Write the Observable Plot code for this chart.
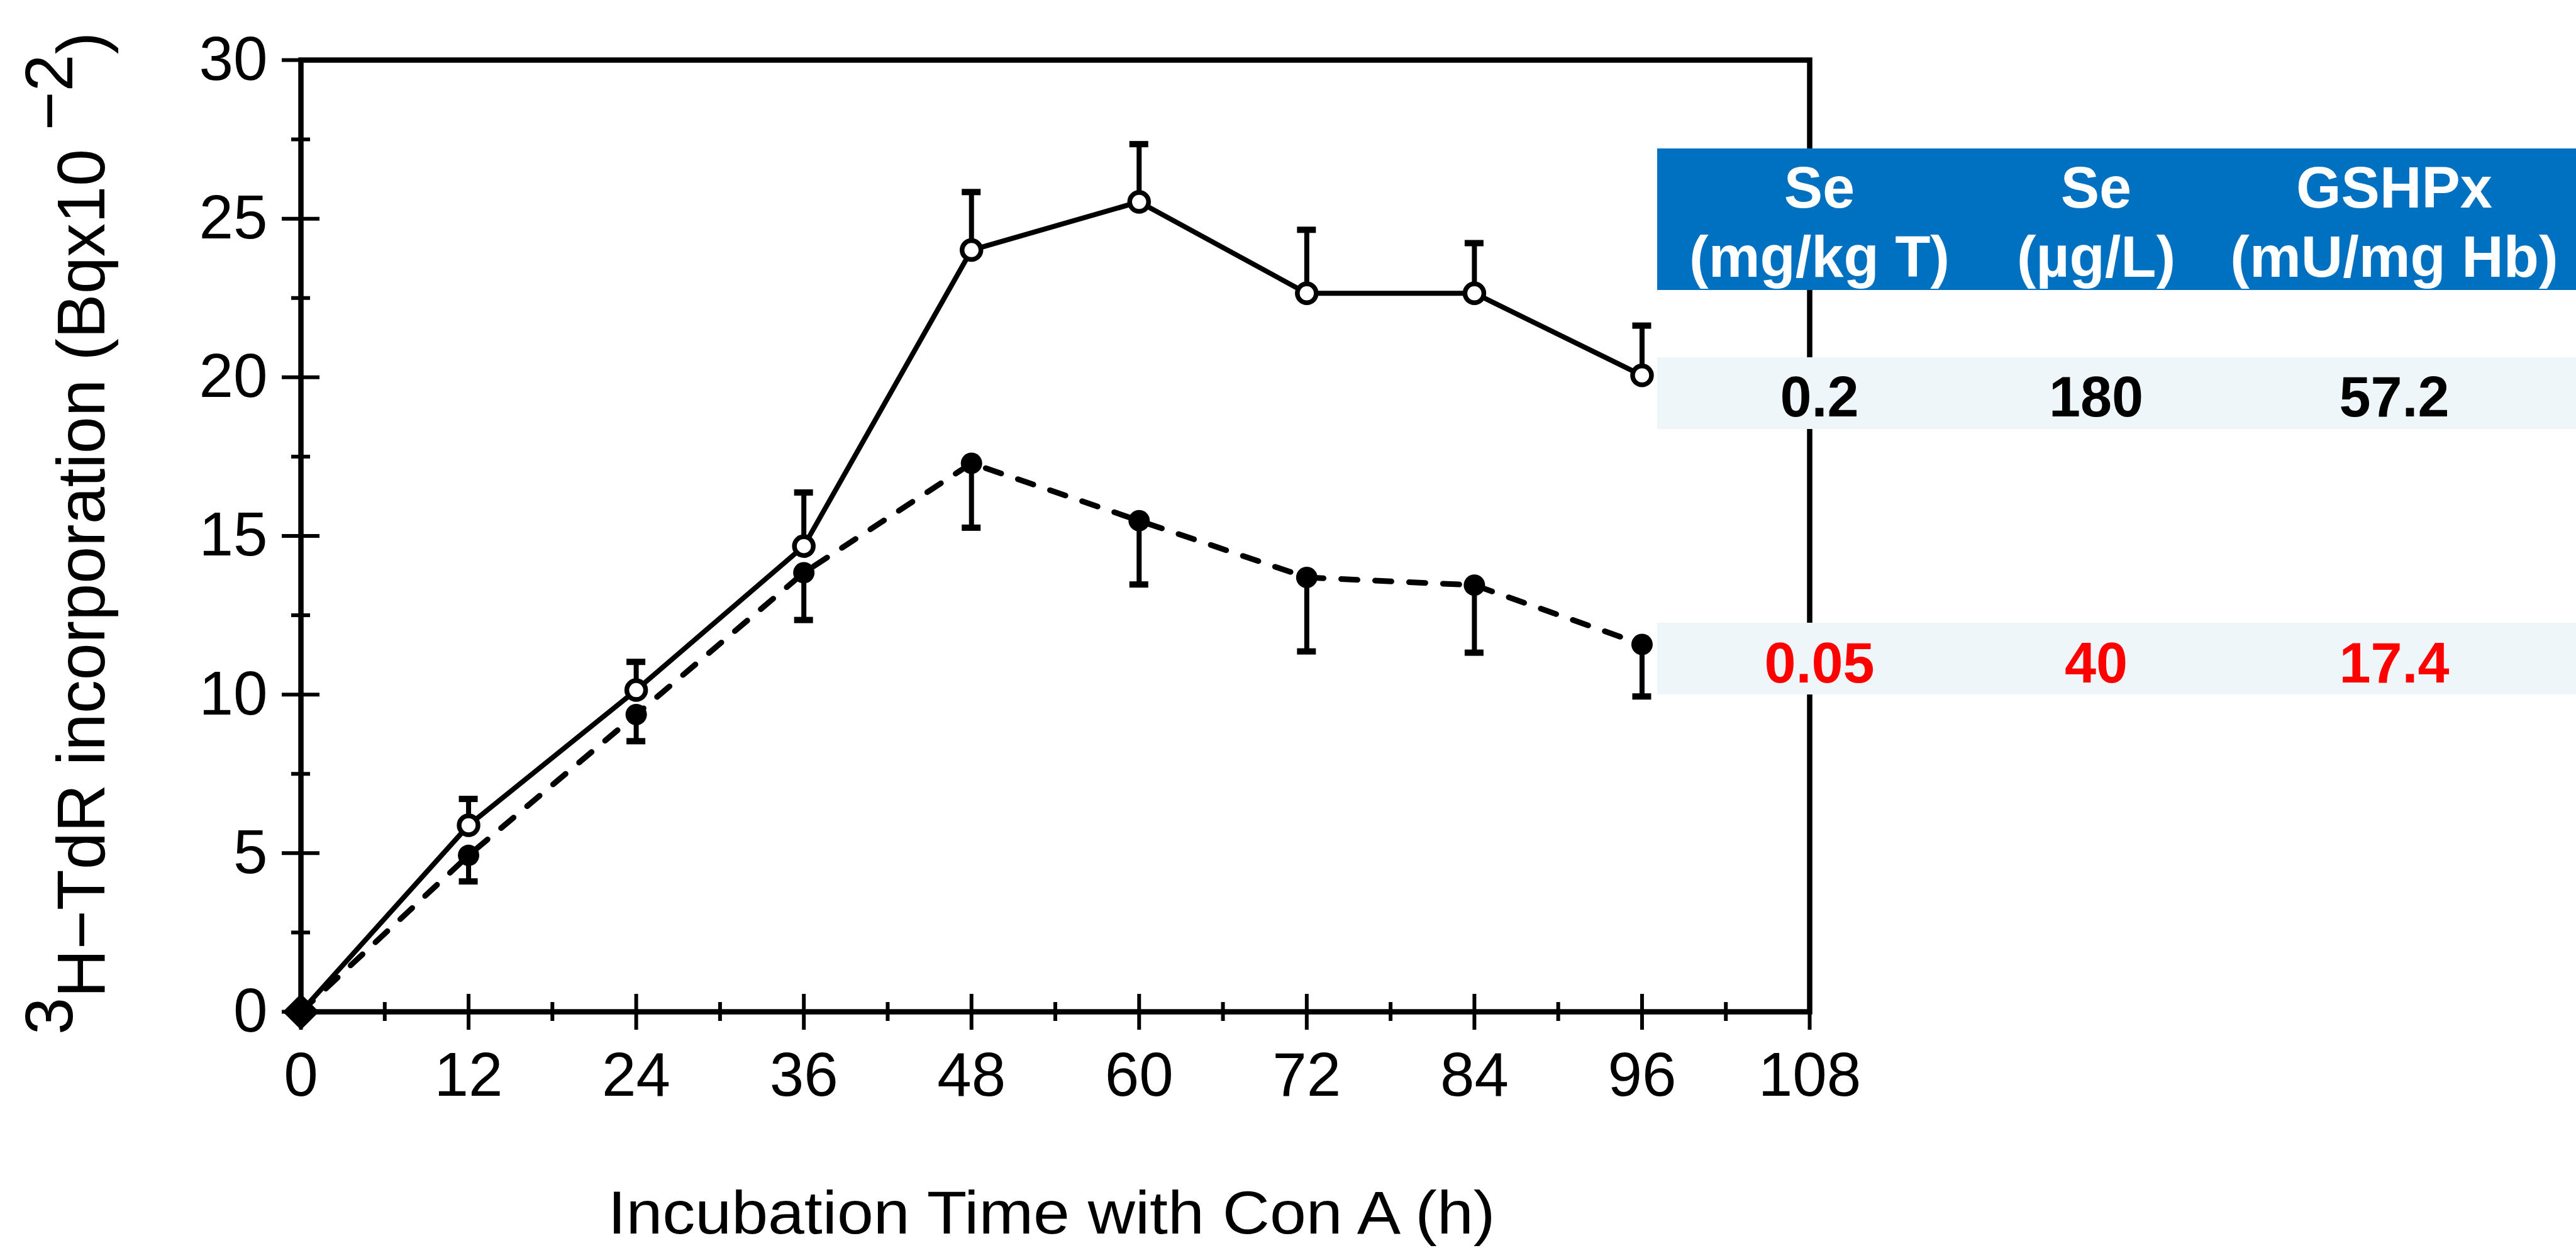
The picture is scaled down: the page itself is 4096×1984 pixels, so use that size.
<!DOCTYPE html>
<html><head><meta charset="utf-8">
<script src="https://cdn.jsdelivr.net/npm/d3@7"></script>
<script src="https://cdn.jsdelivr.net/npm/@observablehq/plot@0.6"></script>
<style>html,body{margin:0;padding:0;background:#fff;} #chart{position:relative;width:4096px;height:1984px;overflow:hidden}</style>
</head><body><div id="chart"></div>
<script>
// ---- data ----
const hours = [0, 12, 24, 36, 48, 60, 72, 84, 96];
const highSe = [0, 5.88, 10.14, 14.68, 24.01, 25.53, 22.65, 22.65, 20.06];     // open circles, solid line
const highSeErr = [0, 0.83, 0.89, 1.69, 1.83, 1.82, 2.00, 1.58, 1.57];        // drawn upward
const lowSe = [0, 4.93, 9.37, 13.84, 17.29, 15.48, 13.69, 13.45, 11.58];      // filled circles, dashed line
const lowSeErr = [0, 0.82, 0.84, 1.49, 2.03, 2.01, 2.33, 2.13, 1.64];         // drawn downward

const xMajor = [0, 12, 24, 36, 48, 60, 72, 84, 96, 108];
const xMinor = [6, 18, 30, 42, 54, 66, 78, 90, 102];
const yMajor = [0, 5, 10, 15, 20, 25, 30];
const yMinor = [2.5, 7.5, 12.5, 17.5, 22.5, 27.5];

const xTitle = "Incubation Time with Con A (h)";
const yTitleParts = ["3", "H\u2212TdR incorporation (Bqx10 ", "\u22122", ")"];

const tableHeaders = [["Se", "(mg/kg T)"], ["Se", "(\u00b5g/L)"], ["GSHPx", "(mU/mg Hb)"]];
const tableRows = [["0.2", "180", "57.2"], ["0.05", "40", "17.4"]];
const rowColors = ["#000000", "#FF0000"];

// ---- build ----
const rows = hours.map((h, i) => ({
  h, hi: highSe[i], hiTop: highSe[i] + highSeErr[i],
  lo: lowSe[i], loBot: lowSe[i] - lowSeErr[i]
}));
const pts = rows.filter(d => d.h > 0);
const FONT = "'Liberation Sans', Arial, Helvetica, sans-serif";

const plot = Plot.plot({
  width: 4096, height: 1984,
  marginLeft: 478, marginRight: 1219, marginTop: 95, marginBottom: 376,
  x: {domain: [0, 108], axis: null},
  y: {domain: [0, 30], axis: null},
  style: {fontFamily: FONT, background: "white", color: "black"},
  marks: [
    Plot.frame({stroke: "black", strokeWidth: 8.5}),
    // crossing ticks
    Plot.ruleX(xMajor, {x: d => d, y1: 0, y2: 0, insetTop: -28, insetBottom: -29, strokeWidth: 6}),
    Plot.ruleX(xMinor, {x: d => d, y1: 0, y2: 0, insetTop: -15, insetBottom: -15, strokeWidth: 6}),
    Plot.ruleY(yMajor, {y: d => d, x1: 0, x2: 0, insetLeft: -30, insetRight: -30, strokeWidth: 6}),
    Plot.ruleY(yMinor, {y: d => d, x1: 0, x2: 0, insetLeft: -15, insetRight: -15, strokeWidth: 6}),
    // tick labels
    Plot.text(xMajor, {x: d => d, y: 0, text: d => String(d), lineAnchor: "top", dy: 64, fontSize: 98}),
    Plot.text(yMajor, {x: 0, y: d => d, text: d => String(d), textAnchor: "end", dx: -53, fontSize: 98}),
    // lines
    Plot.line(rows, {x: "h", y: "lo", stroke: "black", strokeWidth: 9, strokeDasharray: "26,28"}),
    Plot.line(rows, {x: "h", y: "hi", stroke: "black", strokeWidth: 8}),
    // error bars
    Plot.ruleX(pts, {x: "h", y1: "lo", y2: "loBot", strokeWidth: 8}),
    Plot.ruleY(pts, {y: "loBot", x1: "h", x2: "h", insetLeft: -15, insetRight: -15, strokeWidth: 10}),
    Plot.ruleX(pts, {x: "h", y1: "hi", y2: "hiTop", strokeWidth: 8}),
    Plot.ruleY(pts, {y: "hiTop", x1: "h", x2: "h", insetLeft: -15, insetRight: -15, strokeWidth: 10}),
    // markers
    Plot.dot(pts, {x: "h", y: "lo", r: 17, fill: "black", stroke: "none"}),
    Plot.dot(pts, {x: "h", y: "hi", r: 15, fill: "white", stroke: "black", strokeWidth: 7.5}),
    Plot.dot(rows.filter(d => d.h === 0), {x: "h", y: "lo", symbol: "diamond2", r: 26, fill: "black", stroke: "none"})
  ]
});

const svg = d3.select(plot);

// axis titles
const yl = svg.append("text")
  .attr("transform", "translate(166,848) rotate(-90)")
  .attr("text-anchor", "middle")
  .attr("font-family", FONT).attr("font-size", 108).attr("fill", "black")
  .attr("textLength", 1594).attr("lengthAdjust", "spacingAndGlyphs");
yl.append("tspan").attr("dy", -51).text(yTitleParts[0]);
yl.append("tspan").attr("dy", 51).text(yTitleParts[1]);
yl.append("tspan").attr("dy", -51).text(yTitleParts[2]);
yl.append("tspan").attr("dy", 51).text(yTitleParts[3]);

svg.append("text")
  .attr("x", 1672).attr("y", 1961)
  .attr("text-anchor", "middle")
  .attr("font-family", FONT).attr("font-size", 96).attr("fill", "black")
  .attr("textLength", 1411).attr("lengthAdjust", "spacingAndGlyphs")
  .text(xTitle);

// table overlay
const colCenters = [2893, 3333, 3807];
const tbl = svg.append("g").attr("font-family", FONT).attr("font-weight", "bold").attr("text-anchor", "middle");
tbl.append("rect").attr("x", 2635).attr("y", 236).attr("width", 4096 - 2635).attr("height", 225).attr("fill", "#0070C0");
tableHeaders.forEach((lines, c) => {
  lines.forEach((t, li) => {
    tbl.append("text").attr("x", colCenters[c]).attr("y", li === 0 ? 330 : 440)
      .attr("font-size", 92).attr("fill", "white").text(t);
  });
});
const rowTops = [568, 990];
const rowBase = [662, 1085];
tableRows.forEach((r, ri) => {
  tbl.append("rect").attr("x", 2635).attr("y", rowTops[ri]).attr("width", 4096 - 2635).attr("height", 114).attr("fill", "#EEF6F9");
  r.forEach((t, c) => {
    tbl.append("text").attr("x", colCenters[c]).attr("y", rowBase[ri])
      .attr("font-size", 90).attr("fill", rowColors[ri]).text(t);
  });
});

document.getElementById("chart").appendChild(plot);
</script>
</body></html>
